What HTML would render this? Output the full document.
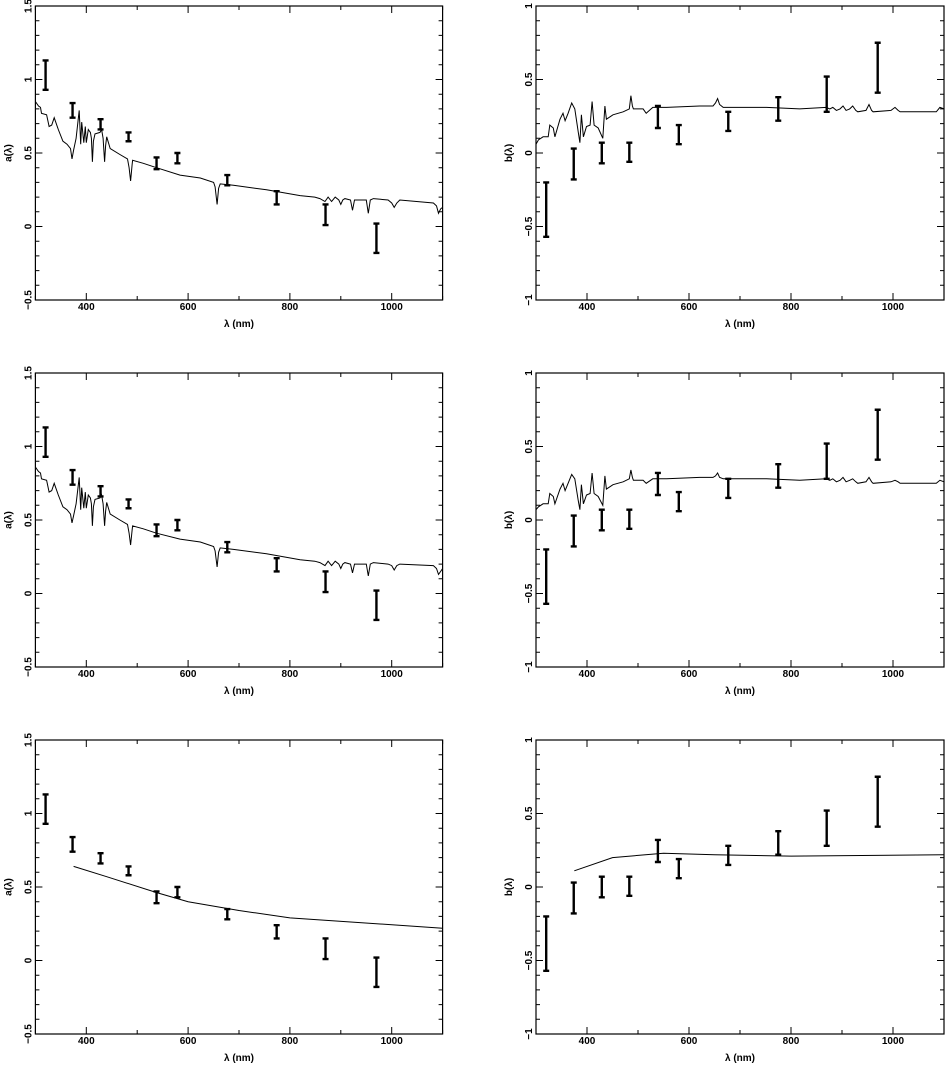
<!DOCTYPE html>
<html><head><meta charset="utf-8"><style>
html,body{margin:0;padding:0;background:#fff}
svg{display:block}
text{font-family:"Liberation Sans",sans-serif;font-size:10px;font-weight:bold;fill:#000}
</style></head><body>
<svg id="fig" width="945" height="1065" viewBox="0 0 945 1065"></svg>
<script>
// ---- data ----
const aSpecLam=[300,306,310,312,322,327,332,337,345,354,362,369,372,375,380,386,389,391,395,398,400,404,408,410,412,414,417,427,430,433,436,438,440,447,466,481,484,487,490,491,512,538,584,624,650,653,657,660,663,689,754,820,849,859,869,875,882,889,896,900,904,908,919,923,927,931,950,954,958,964,993,1000,1005,1010,1016,1082,1088,1092,1096,1100];
const aSpecVal=[0.85,0.82,0.81,0.77,0.76,0.68,0.69,0.74,0.66,0.58,0.56,0.53,0.46,0.52,0.60,0.79,0.56,0.71,0.57,0.68,0.57,0.66,0.64,0.60,0.44,0.58,0.63,0.64,0.66,0.60,0.44,0.55,0.61,0.53,0.49,0.46,0.40,0.31,0.42,0.45,0.43,0.40,0.35,0.33,0.30,0.27,0.15,0.26,0.29,0.28,0.25,0.21,0.20,0.19,0.17,0.20,0.17,0.20,0.18,0.15,0.18,0.19,0.18,0.11,0.18,0.18,0.18,0.09,0.18,0.19,0.18,0.16,0.13,0.16,0.18,0.16,0.14,0.09,0.12,0.13];
const bSpecLam=[300,305,314,324,327,334,337,347,353,357,363,370,376,383,386,389,393,399,406,410,414,422,431,435,438,451,471,483,486,489,491,510,516,529,556,621,647,652,656,660,667,752,817,869,876,882,889,896,902,908,915,921,927,931,947,953,958,961,996,1004,1010,1014,1085,1092,1100];
const bSpecVal=[0.06,0.09,0.11,0.11,0.19,0.17,0.11,0.23,0.27,0.22,0.27,0.34,0.30,0.14,0.07,0.26,0.11,0.18,0.19,0.35,0.19,0.17,0.10,0.32,0.23,0.26,0.28,0.30,0.39,0.32,0.30,0.30,0.27,0.31,0.31,0.32,0.32,0.34,0.37,0.33,0.31,0.31,0.30,0.31,0.30,0.31,0.29,0.30,0.32,0.29,0.30,0.32,0.29,0.28,0.29,0.33,0.29,0.28,0.29,0.31,0.29,0.28,0.28,0.31,0.30];
const aSpecLamMid=aSpecLam;
const aSpecValMid=[0.86,0.83,0.82,0.78,0.77,0.69,0.70,0.75,0.67,0.59,0.57,0.54,0.48,0.53,0.61,0.79,0.57,0.72,0.58,0.69,0.58,0.67,0.65,0.61,0.46,0.59,0.64,0.65,0.67,0.61,0.46,0.56,0.62,0.54,0.50,0.47,0.41,0.33,0.43,0.46,0.44,0.41,0.37,0.35,0.32,0.29,0.18,0.28,0.31,0.30,0.27,0.23,0.22,0.21,0.19,0.22,0.19,0.22,0.20,0.17,0.20,0.21,0.20,0.14,0.20,0.20,0.20,0.12,0.20,0.21,0.20,0.19,0.16,0.19,0.20,0.19,0.17,0.13,0.15,0.17];
const bSpecLamMid=bSpecLam;
const bSpecValMid=[0.07,0.09,0.11,0.11,0.18,0.16,0.11,0.21,0.25,0.20,0.25,0.31,0.28,0.13,0.07,0.24,0.11,0.17,0.18,0.32,0.18,0.16,0.10,0.30,0.21,0.24,0.26,0.28,0.34,0.29,0.27,0.27,0.25,0.28,0.28,0.29,0.29,0.30,0.32,0.29,0.28,0.28,0.27,0.28,0.27,0.28,0.26,0.27,0.29,0.26,0.27,0.28,0.26,0.25,0.26,0.29,0.26,0.25,0.26,0.27,0.26,0.25,0.25,0.27,0.26];
const aModelLam=[375,440,540,600,700,800,1100];
const aModelVal=[0.64,0.57,0.46,0.40,0.34,0.29,0.22];
const bModelLam=[375,450,550,650,800,1100];
const bModelVal=[0.11,0.20,0.23,0.22,0.21,0.22];
const errLamA=[320,373,428,483,538,579,677,774,870,970];
const errLoA=[0.93,0.74,0.66,0.58,0.39,0.43,0.28,0.15,0.01,-0.18];
const errHiA=[1.13,0.84,0.73,0.64,0.47,0.50,0.35,0.24,0.15,0.02];
const errLamB=[320,374,429,483,539,580,677,775,870,970];
const errLoB=[-0.57,-0.18,-0.07,-0.06,0.17,0.06,0.15,0.22,0.28,0.41];
const errHiB=[-0.20,0.03,0.07,0.07,0.32,0.19,0.28,0.38,0.52,0.75];
const xTicks=[400,600,800,1000];
const aTicks=[-0.5,0,0.5,1,1.5];
const aTickLabels=["\u22120.5","0","0.5","1","1.5"];
const bTicks=[-1,-0.5,0,0.5,1];
const bTickLabels=["\u22121","\u22120.5","0","0.5","1"];

const NS="http://www.w3.org/2000/svg";
const svg=document.getElementById('fig');
function mk(tag,attrs,parent){const e=document.createElementNS(NS,tag);for(const k in attrs)e.setAttribute(k,attrs[k]);(parent||svg).appendChild(e);return e;}

function panel(id,L,R,T,B,ymin,ymax,yTicks,yLabels,yName,lam,val,elam,elo,ehi){
  const g=mk('g',{});
  
  
  const sx=v=>L+(v-300)/800*(R-L);
  const sy=v=>B-(v-ymin)/(ymax-ymin)*(B-T);
  const fr=mk('rect',{x:L,y:T,width:R-L,height:B-T,fill:'none',stroke:'#000','stroke-width':1.2},g);
  
  
  let d='';
  for(let x=300;x<=1100;x+=100){const maj=x%200===0;const l=maj?7:4;d+=`M${sx(x)},${B}v${-l}M${sx(x)},${T}v${l}`;}
  for(let y=Math.round(ymin*10);y<=Math.round(ymax*10);y++){const maj=y%5===0;const l=maj?7:4;d+=`M${L},${sy(y/10)}h${l}M${R},${sy(y/10)}h${-l}`;}
  const tk=mk('path',{d:d,stroke:'#000','stroke-width':1,fill:'none'},g);
  
  
  xTicks.forEach(x=>{const t=mk('text',{x:sx(x),y:B+10,'text-anchor':'middle'},g);t.textContent=x;
    
    });
  yTicks.forEach((y,i)=>{const t=mk('text',{x:0,y:0,'text-anchor':'middle',transform:`translate(${L-4},${sy(y)}) rotate(-90)`},g);t.textContent=yLabels[i];
    
    });
  const xt=mk('text',{x:(L+R)/2,y:B+27,'text-anchor':'middle'},g);xt.textContent='\u03bb (nm)';
  
  
  const yt=mk('text',{x:0,y:0,'text-anchor':'middle',transform:`translate(${L-24},${(T+B)/2}) rotate(-90)`},g);yt.textContent=yName;
  
  
  const p=lam.map((x,i)=>`${i?'L':'M'}${sx(x).toFixed(1)},${sy(val[i]).toFixed(1)}`).join('');
  const ln=mk('path',{d:p,fill:'none',stroke:'#000','stroke-width':1},g);
  
  
  elam.forEach((x,i)=>{const X=sx(x),y1=sy(elo[i]),y2=sy(ehi[i]);
    const e=mk('path',{d:`M${X},${y1}V${y2}M${X-3},${y1}h6M${X-3},${y2}h6`,stroke:'#000','stroke-width':2.4,fill:'none'},g);
    
    });
}
const rows=[[6,300],[373,667],[740,1034]];
panel('a-panel-top',35.4,442.6,rows[0][0],rows[0][1],-0.5,1.5,aTicks,aTickLabels,'a(\u03bb)',aSpecLam,aSpecVal,errLamA,errLoA,errHiA);
panel('b-panel-top',536,944,rows[0][0],rows[0][1],-1,1,bTicks,bTickLabels,'b(\u03bb)',bSpecLam,bSpecVal,errLamB,errLoB,errHiB);
panel('a-panel-middle',35.4,442.6,rows[1][0],rows[1][1],-0.5,1.5,aTicks,aTickLabels,'a(\u03bb)',aSpecLamMid,aSpecValMid,errLamA,errLoA,errHiA);
panel('b-panel-middle',536,944,rows[1][0],rows[1][1],-1,1,bTicks,bTickLabels,'b(\u03bb)',bSpecLamMid,bSpecValMid,errLamB,errLoB,errHiB);
panel('a-panel-bottom',35.4,442.6,rows[2][0],rows[2][1],-0.5,1.5,aTicks,aTickLabels,'a(\u03bb)',aModelLam,aModelVal,errLamA,errLoA,errHiA);
panel('b-panel-bottom',536,944,rows[2][0],rows[2][1],-1,1,bTicks,bTickLabels,'b(\u03bb)',bModelLam,bModelVal,errLamB,errLoB,errHiB);
</script>
</body></html>
